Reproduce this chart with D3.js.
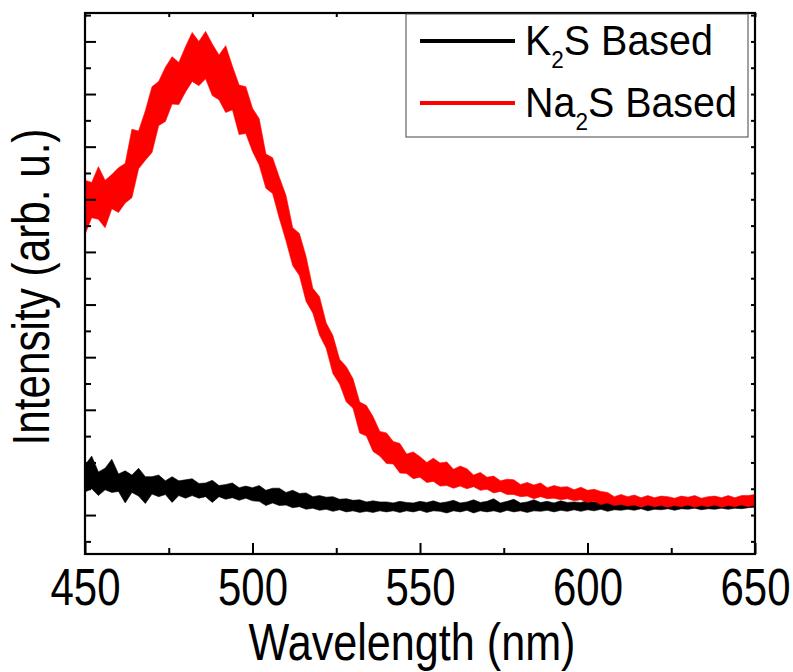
<!DOCTYPE html>
<html>
<head>
<meta charset="utf-8">
<script src="https://cdn.jsdelivr.net/npm/d3@7"></script>
<style>
  body { margin: 0; background: #fff; }
  text { font-family: "Liberation Sans", Arial, sans-serif; fill: #000; }
</style>
</head>
<body>
<div id="chart"></div>
<script>
// spectra sampled every 2 nm, upper / lower edge of the noisy trace (arb. u.)
var wavelength = d3.range(450, 651, 2);

var naUpper = [
  636, 632, 662, 636, 647, 660, 668, 733, 730, 768,
  814, 824, 851, 871, 860, 890, 917, 900, 919, 895,
  874, 892, 853, 817, 814, 773, 753, 686, 679, 642,
  607, 546, 535, 491, 431, 415, 365, 341, 296, 282,
  259, 215, 208, 187, 159, 156, 140, 136, 116, 120,
  111, 100, 108, 99, 101, 87, 93, 88, 76, 81,
  72, 74, 65, 68, 67, 58, 62, 57, 61, 52,
  56, 53, 54, 48, 53, 47, 49, 45, 43, 35,
  39, 35, 38, 33, 37, 33, 36, 35, 32, 36,
  34, 37, 32, 35, 36, 33, 37, 33, 37, 37,
  39];
var naLower = [
  533, 565, 562, 546, 582, 575, 593, 603, 658, 674,
  689, 740, 748, 781, 780, 804, 824, 816, 829, 797,
  789, 765, 770, 723, 725, 691, 665, 621, 611, 564,
  521, 474, 455, 406, 384, 342, 317, 269, 249, 215,
  203, 156, 150, 121, 112, 98, 97, 80, 79, 69,
  72, 62, 64, 55, 56, 51, 55, 50, 54, 47,
  49, 42, 45, 39, 39, 35, 36, 31, 35, 31,
  32, 29, 31, 27, 29, 24, 26, 20, 23, 18,
  20, 17, 19, 15, 19, 16, 18, 15, 18, 16,
  19, 15, 18, 16, 19, 15, 18, 16, 19, 16,
  19];

var kUpper = [
  95, 112, 82, 89, 106, 78, 84, 76, 89, 73,
  73, 76, 65, 73, 65, 67, 69, 60, 61, 66,
  56, 58, 61, 52, 55, 52, 56, 47, 51, 51,
  43, 47, 41, 42, 35, 37, 34, 35, 30, 31,
  28, 29, 25, 27, 25, 25, 23, 26, 24, 23,
  26, 24, 27, 23, 25, 28, 23, 25, 29, 24,
  26, 31, 23, 26, 30, 23, 25, 29, 24, 26,
  23, 27, 24, 25, 24, 27, 25, 27, 24, 26,
  27, 24, 27, 25, 28, 26, 27, 25, 29, 26,
  28, 27, 29, 27, 29, 27, 30, 28, 30, 28,
  31];
var kLower = [
  44, 50, 37, 48, 43, 45, 23, 43, 36, 22,
  40, 35, 39, 24, 37, 32, 37, 32, 35, 24,
  35, 30, 33, 28, 32, 27, 26, 18, 23, 18,
  19, 14, 16, 11, 13, 9, 11, 7, 10, 6,
  8, 5, 7, 5, 8, 6, 8, 5, 8, 6,
  9, 5, 8, 7, 4, 8, 6, 9, 4, 8,
  6, 8, 5, 9, 6, 8, 5, 8, 7, 9,
  6, 9, 7, 10, 7, 10, 8, 11, 7, 10,
  9, 11, 9, 12, 8, 11, 10, 12, 9, 12,
  11, 13, 10, 12, 11, 13, 11, 13, 12, 14,
  15];

var xTicks = [450, 500, 550, 600, 650];
var seriesNames = ["K", "Na"];   // K2S Based, Na2S Based
var seriesColors = ["#000000", "#ff0000"];

var width = 793, height = 672;
var margin = {top: 13, right: 38, bottom: 118, left: 85};
var plotW = width - margin.left - margin.right,
    plotH = height - margin.top - margin.bottom;

var svg = d3.select("#chart").append("svg")
  .attr("width", width)
  .attr("height", height);

var g = svg.append("g")
  .attr("transform", "translate(" + margin.left + "," + margin.top + ")");

var x = d3.scaleLinear().domain([450, 650]).range([0, plotW]);
var y = d3.scaleLinear().domain([-74, 954]).range([plotH, 0]);

g.append("clipPath").attr("id", "clip")
  .append("rect").attr("width", plotW).attr("height", plotH);

// noisy traces drawn as band between upper and lower edge
function band(upper, lower) {
  return d3.area()
    .x(function(d, i) { return x(wavelength[i]) })
    .y0(function(d, i) { return y(lower[i]) })
    .y1(function(d, i) { return y(upper[i]) })(wavelength);
}
var traces = [[kUpper, kLower], [naUpper, naLower]];
traces.forEach(function(t, i) {
  g.append("path")
    .attr("clip-path", "url(#clip)")
    .attr("d", band(t[0], t[1]))
    .style("fill", seriesColors[i])
    .style("stroke", seriesColors[i])
    .style("stroke-width", 0.6)
    .style("stroke-linejoin", "round");
});

// squeeze text horizontally (the original font is a condensed sans)
function squeeze(el, target) {
  var w = el.node().getBBox().width;
  return w > 0 ? target / w : 1;
}

// axes, all ticks inward
function tickAxis(axis, tr) {
  var a = g.append("g").attr("transform", tr || null).call(axis);
  a.select(".domain").remove();
  a.selectAll("line").style("stroke", "#000").style("stroke-width", 2);
  return a;
}
var bottom = tickAxis(d3.axisBottom(x).tickValues(xTicks).tickSize(-11), "translate(0," + plotH + ")");
tickAxis(d3.axisBottom(x).tickValues([475, 525, 575, 625]).tickSize(-6).tickFormat(""), "translate(0," + plotH + ")");
tickAxis(d3.axisTop(x).tickValues(d3.range(450, 651, 25)).tickSize(-4).tickFormat(""));
tickAxis(d3.axisLeft(y).tickValues(d3.range(0, 901, 100)).tickSize(-11).tickFormat(""));
tickAxis(d3.axisLeft(y).tickValues(d3.range(-50, 951, 100)).tickSize(-6).tickFormat(""));
tickAxis(d3.axisRight(y).tickValues(d3.range(-50, 951, 50)).tickSize(-4).tickFormat(""), "translate(" + plotW + ",0)");

bottom.selectAll("text")
  .attr("dy", null)
  .attr("y", 51)
  .style("font-size", "52px")
  .attr("fill", "#000")
  .each(function() {
    var t = d3.select(this);
    t.attr("transform", "scale(" + squeeze(t, 70) + ",1)");
  });

g.append("rect")
  .attr("width", plotW)
  .attr("height", plotH)
  .style("fill", "none")
  .style("stroke", "#000")
  .style("stroke-width", 2.2);

// axis titles
var xl = svg.append("g");
var xt = xl.append("text").attr("text-anchor", "middle").style("font-size", "52px").text("Wavelength (nm)");
xl.attr("transform", "translate(412,660) scale(" + squeeze(xt, 327) + ",1)");

var yl = svg.append("g");
var yt = yl.append("text").attr("text-anchor", "middle").style("font-size", "52px").text("Intensity (arb. u.)");
yl.attr("transform", "translate(49,287) rotate(-90) scale(" + squeeze(yt, 317) + ",1)");

// legend
var legend = svg.append("g");
legend.append("rect")
  .attr("x", 406).attr("y", 14)
  .attr("width", 342).attr("height", 123)
  .style("fill", "#fff")
  .style("stroke", "#444")
  .style("stroke-width", 1);

var legendY = [41, 103];
var labelW = [188, 212];
seriesNames.forEach(function(name, i) {
  legend.append("line")
    .attr("x1", 420).attr("x2", 515)
    .attr("y1", legendY[i]).attr("y2", legendY[i])
    .style("stroke", seriesColors[i])
    .style("stroke-width", 4);
  var lg = legend.append("g");
  var t = lg.append("text").style("font-size", "42px");
  t.append("tspan").text(name);
  t.append("tspan").attr("dy", 13).style("font-size", "24px").text("2");
  t.append("tspan").attr("dy", -13).text("S Based");
  lg.attr("transform", "translate(525," + (legendY[i] + 14) + ") scale(" + squeeze(t, labelW[i]) + ",1)");
});
</script>
</body>
</html>
